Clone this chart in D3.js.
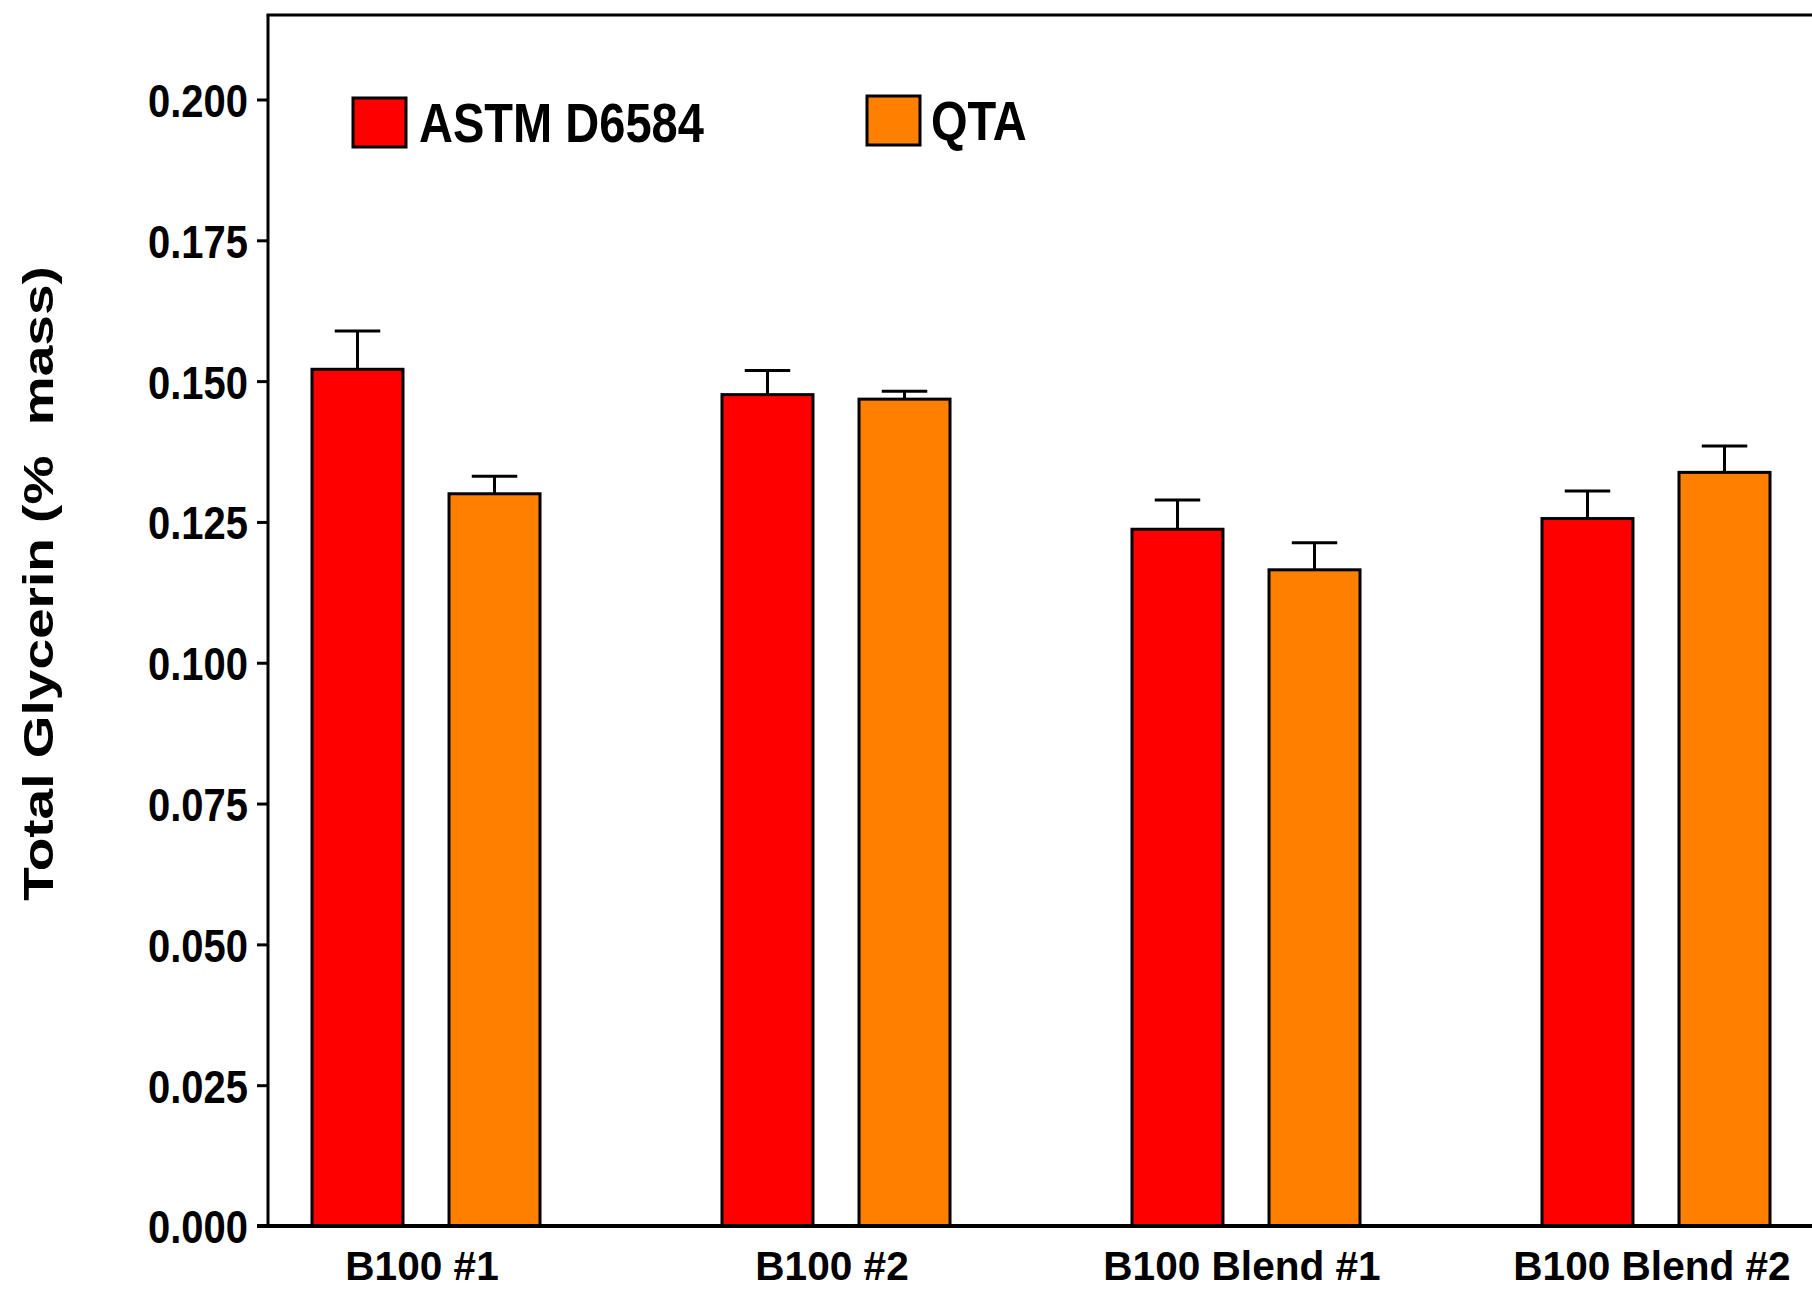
<!DOCTYPE html>
<html>
<head>
<meta charset="utf-8">
<script src="https://cdn.jsdelivr.net/npm/d3@7"></script>
<style>
  body { margin: 0; background: #fff; }
  text { font-family: "Liberation Sans", Arial, sans-serif; fill: #000; }
</style>
</head>
<body>
<div id="chart"></div>
<script>
// bar chart: total glycerin, ASTM D6584 vs QTA

const width = 1812;
const height = 1291;

const categories = ["B100 #1", "B100 #2", "B100 Blend #1", "B100 Blend #2"];
const series = ["ASTM D6584", "QTA"];
const astmValues = [0.1521, 0.1476, 0.1237, 0.1256];
const astmErrors = [0.0068, 0.0043, 0.0052, 0.0049];
const qtaValues = [0.1300, 0.1468, 0.1165, 0.1338];
const qtaErrors = [0.0031, 0.0014, 0.0048, 0.0047];
const yTicks = [0, 0.025, 0.05, 0.075, 0.1, 0.125, 0.15, 0.175, 0.2];
const colors = ["#ff0000", "#ff8000"];

const margin = { top: 15, left: 268, bottom: 65 };

const svg = d3
  .select("#chart")
  .append("svg")
  .attr("width", width)
  .attr("height", height);

svg.append("rect").attr("width", width).attr("height", height).attr("fill", "#fff");

const y = d3
  .scaleLinear()
  .domain([0, 0.215])
  .range([height - margin.bottom, margin.top]);

const x0 = d3
  .scaleBand()
  .domain(categories)
  .range([221, 1861]);

const x1 = d3
  .scaleBand()
  .domain(series)
  .range([0, x0.bandwidth()])
  .paddingInner(0.336)
  .paddingOuter(0.664);

// table for drawing
const rows = [];
categories.forEach((c, i) => {
  rows.push({ cat: c, s: series[0], v: astmValues[i], e: astmErrors[i], col: colors[0] });
  rows.push({ cat: c, s: series[1], v: qtaValues[i], e: qtaErrors[i], col: colors[1] });
});

// error bars (drawn first, bars cover the lower part)
const eb = svg.append("g").attr("stroke", "#000").attr("stroke-width", 3);
rows.forEach(d => {
  const cx = x0(d.cat) + x1(d.s) + x1.bandwidth() / 2;
  const cap = x1.bandwidth() / 4;
  eb.append("line")
    .attr("x1", cx).attr("x2", cx)
    .attr("y1", y(d.v)).attr("y2", y(d.v + d.e));
  eb.append("line")
    .attr("x1", cx - cap).attr("x2", cx + cap)
    .attr("y1", y(d.v + d.e)).attr("y2", y(d.v + d.e));
});

// bars
svg
  .append("g")
  .selectAll("rect")
  .data(rows)
  .join("rect")
  .attr("x", d => x0(d.cat) + x1(d.s))
  .attr("y", d => y(d.v))
  .attr("width", x1.bandwidth())
  .attr("height", d => y(0) - y(d.v))
  .attr("fill", d => d.col)
  .attr("stroke", "#000")
  .attr("stroke-width", 3);

// y axis
const yAxis = svg
  .append("g")
  .attr("transform", `translate(${margin.left},0)`)
  .call(
    d3.axisLeft(y)
      .tickValues(yTicks)
      .tickFormat(d3.format(".3f"))
      .tickSize(11)
      .tickPadding(9)
  );
yAxis.select(".domain").remove();
yAxis.selectAll(".tick line").attr("stroke", "#000").attr("stroke-width", 3);
yAxis
  .selectAll(".tick text")
  .attr("x", -20 / 0.85)
  .attr("dy", "0.36em")
  .attr("transform", "scale(0.85,1)")
  .style("font-size", "47px")
  .style("font-weight", "bold");

// frame: left axis line, top line, baseline
svg.append("line")
  .attr("x1", margin.left).attr("x2", margin.left)
  .attr("y1", margin.top).attr("y2", y(0))
  .attr("stroke", "#000").attr("stroke-width", 3);
svg.append("line")
  .attr("x1", margin.left - 1.5).attr("x2", width)
  .attr("y1", margin.top).attr("y2", margin.top)
  .attr("stroke", "#000").attr("stroke-width", 3);
svg.append("line")
  .attr("x1", margin.left - 11).attr("x2", width)
  .attr("y1", y(0)).attr("y2", y(0))
  .attr("stroke", "#000").attr("stroke-width", 4);

// x axis labels
const xAxis = svg
  .append("g")
  .attr("transform", `translate(0,${y(0)})`)
  .call(d3.axisBottom(x0).tickSize(0));
xAxis.select(".domain").remove();
xAxis
  .selectAll(".tick text")
  .attr("y", 54)
  .attr("dy", 0)
  .attr("transform", "scale(0.99,1)")
  .attr("x", 0)
  .style("font-size", "41px")
  .style("font-weight", "bold");
// keep labels centred after the squeeze
xAxis.selectAll(".tick").each(function (d) {
  const cx = x0(d) + x0.bandwidth() / 2 - 4;
  d3.select(this).attr("transform", `translate(${cx},0)`);
});

// y title
svg
  .append("text")
  .attr("transform", `translate(53,${(268 + 899) / 2}) scale(0.78,1) rotate(-90)`)
  .attr("text-anchor", "middle")
  .style("font-size", "55px")
  .style("font-weight", "bold")
  .style("white-space", "pre")
  .text("Total Glycerin (%  mass)");

// legend
const legendItems = [
  { label: series[0], col: colors[0], bx: 353, by: 98, tx: 419, ty: 142 },
  { label: series[1], col: colors[1], bx: 867, by: 96, tx: 931, ty: 140 }
];
const legend = svg.append("g");
legendItems.forEach(d => {
  legend.append("rect")
    .attr("x", d.bx).attr("y", d.by)
    .attr("width", 53).attr("height", 49)
    .attr("fill", d.col)
    .attr("stroke", "#000")
    .attr("stroke-width", 3);
  legend.append("text")
    .attr("transform", `translate(${d.tx},${d.ty}) scale(0.84,1)`)
    .style("font-size", "56px")
    .style("font-weight", "bold")
    .text(d.label);
});
</script>
</body>
</html>
